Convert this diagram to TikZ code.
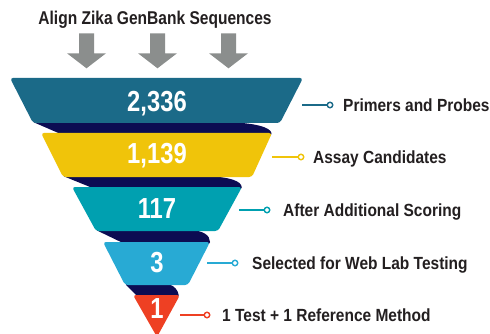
\documentclass[tikz,border=0pt]{standalone}
\usepackage{fontspec}
\setmainfont{Liberation Sans}
\newfontfamily\condfont[FakeStretch=0.84]{Liberation Sans}
\newfontfamily\lblfont[FakeStretch=0.88]{Liberation Sans}
\newfontfamily\numfont[FakeStretch=0.82]{Liberation Sans}
\definecolor{bandA}{RGB}{27,106,136}
\definecolor{bandB}{RGB}{240,196,10}
\definecolor{bandC}{RGB}{0,160,176}
\definecolor{bandD}{RGB}{40,170,212}
\definecolor{bandE}{RGB}{238,64,35}
\definecolor{shade}{RGB}{12,12,82}
\definecolor{arrowgray}{RGB}{139,142,141}
\definecolor{txt}{RGB}{35,31,32}
\tikzset{
  band/.style={rounded corners=3pt},
  backside/.style={fill=shade, rounded corners=2pt},
  downarrow/.style={fill=arrowgray},
  num/.style={text=white, anchor=base, inner sep=0pt, font=\numfont\bfseries\fontsize{29}{30}\selectfont},
  lbl/.style={text=txt, anchor=base west, inner sep=0pt, font=\lblfont\bfseries\fontsize{17.6}{19}\selectfont},
  pin/.style={circle, draw=#1, fill=white, line width=1.4pt, minimum size=5.5pt, inner sep=0pt},
  lead/.style={draw=#1, line width=1.6pt}
}
\begin{document}
\begin{tikzpicture}[x=1pt,y=-1pt]
\clip (0,0) rectangle (490,334);
\fill[white] (0,0) rectangle (490,334);
% title
\node[text=txt, anchor=base, inner sep=0pt, font=\condfont\bfseries\fontsize{18.5}{20}\selectfont] (title) at (155,25) {Align Zika GenBank Sequences};
% arrows
\foreach \cx [count=\i] in {86.5,157.5,228.5}{
  \fill[downarrow] (\cx-7.5,33.3) -- (\cx+7.5,33.3) -- (\cx+7.5,53.3) -- (\cx+19.5,53.3) -- (\cx,68.3) -- (\cx-19.5,53.3) -- (\cx-7.5,53.3) -- cycle;
}
% back sides
\fill[backside] (33,122) -- (225,122) .. controls (255,123) and (270,127) .. (272,135) -- (63,135) -- cycle;
\fill[backside] (63,176) -- (205,176) .. controls (230,177) and (241,181) .. (242,189) -- (95,189) -- cycle;
\fill[backside] (96,230) -- (190,230) .. controls (203,231) and (210,235) .. (210,244) -- (125,244) -- cycle;
\fill[backside] (125,284) -- (168,284) .. controls (174,286) and (178,290) .. (179,297) -- (138,297) -- cycle;
% bands
\fill[band, bandA] (10,78) -- (303,78) -- (280,123) -- (33,123) -- cycle;
\fill[band, bandB] (41,133) -- (272,133) -- (252,177) -- (63,177) -- cycle;
\fill[band, bandC] (72,187) -- (242,187) -- (218,231) -- (96,231) -- cycle;
\fill[band, bandD] (103,242) -- (210,242) -- (188,285) -- (125,285) -- cycle;
\fill[band, bandE] (133,295) -- (180,295) -- (157,337) -- cycle;
% numbers
\node[num] (n1) at (157,111.5) {2,336};
\node[num] (n2) at (157,164) {1,139};
\node[num] (n3) at (157,218) {117};
\node[num] (n4) at (157,272) {3};
\node[num] (n5) at (157,318) {1};
% labels
\coordinate (s1) at (302,105);
\node[pin=bandA] (p1) at (330,105) {};
\node[lbl] (t1) at (343,111.5) {Primers and Probes};
\draw[lead=bandA] (s1) -- (p1);
\coordinate (s2) at (272,157);
\node[pin=bandB] (p2) at (301,157) {};
\node[lbl] (t2) at (313,163.5) {Assay Candidates};
\draw[lead=bandB] (s2) -- (p2);
\coordinate (s3) at (239,210);
\node[pin=bandC] (p3) at (267,210) {};
\node[lbl] (t3) at (283,216.5) {After Additional Scoring};
\draw[lead=bandC] (s3) -- (p3);
\coordinate (s4) at (207,263);
\node[pin=bandD] (p4) at (235,263) {};
\node[lbl] (t4) at (252,269.5) {Selected for Web Lab Testing};
\draw[lead=bandD] (s4) -- (p4);
\coordinate (s5) at (180,315);
\node[pin=bandE] (p5) at (207,315) {};
\node[lbl] (t5) at (222,321.5) {1 Test + 1 Reference Method};
\draw[lead=bandE] (s5) -- (p5);
\end{tikzpicture}
\end{document}
